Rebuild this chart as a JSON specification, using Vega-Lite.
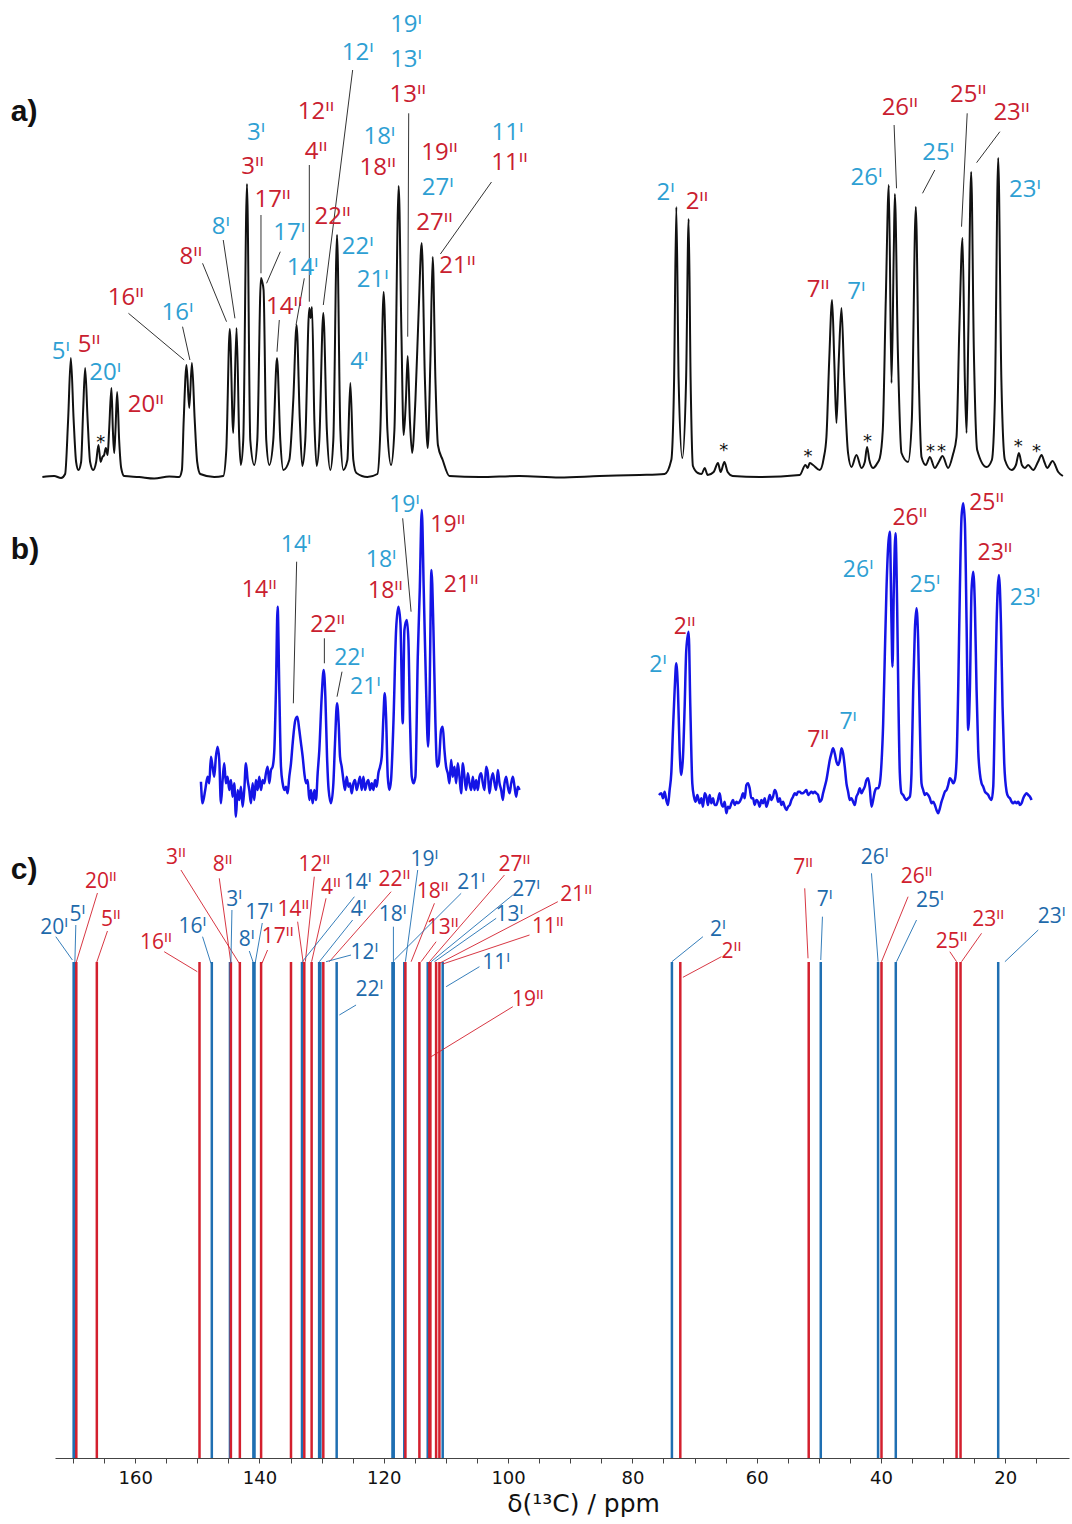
{
"$schema": "https://vega.github.io/schema/vega-lite/v6.json",
"width": 1014,
"height": 1458,
"autosize": {"type": "none"},
"padding": {"left": 55, "top": 0, "right": 3, "bottom": 66},
"background": "white",
"config": {"view": {"stroke": null}},
"datasets": {
"specA": [
{"ppm":174.93,"h":1},{"ppm":173.04,"h":2},{"ppm":171.92,"h":0},{"ppm":171.27,"h":4},{"ppm":170.79,"h":58},{"ppm":170.35,"h":120},{"ppm":169.9,"h":58},{"ppm":169.5,"h":16},{"ppm":169.13,"h":8},{"ppm":168.7,"h":16},{"ppm":168.37,"h":68},{"ppm":168.05,"h":110},{"ppm":167.65,"h":58},{"ppm":167.25,"h":16},{"ppm":166.76,"h":8},{"ppm":166.28,"h":16},{"ppm":165.91,"h":33},{"ppm":165.56,"h":16},{"ppm":165.27,"h":21},{"ppm":165.0,"h":23},{"ppm":164.72,"h":30},{"ppm":164.43,"h":23},{"ppm":164.19,"h":48},{"ppm":163.82,"h":90},{"ppm":163.59,"h":48},{"ppm":163.38,"h":25},{"ppm":163.17,"h":48},{"ppm":162.9,"h":86},{"ppm":162.58,"h":38},{"ppm":162.25,"h":10},{"ppm":161.77,"h":2},{"ppm":159.36,"h":1},{"ppm":156.94,"h":-0.5},{"ppm":154.52,"h":1.5},{"ppm":152.91,"h":1},{"ppm":152.48,"h":8},{"ppm":152.19,"h":58},{"ppm":151.74,"h":113},{"ppm":151.3,"h":70},{"ppm":150.87,"h":115},{"ppm":150.42,"h":58},{"ppm":150.02,"h":16},{"ppm":149.53,"h":4},{"ppm":147.28,"h":1},{"ppm":145.83,"h":2},{"ppm":145.34,"h":28},{"ppm":144.78,"h":149},{"ppm":144.22,"h":45},{"ppm":143.69,"h":150},{"ppm":143.25,"h":38},{"ppm":143.01,"h":13},{"ppm":142.61,"h":38},{"ppm":142.01,"h":294},{"ppm":141.48,"h":38},{"ppm":140.84,"h":13},{"ppm":140.35,"h":38},{"ppm":139.76,"h":200},{"ppm":139.55,"h":196},{"ppm":139.34,"h":188},{"ppm":138.91,"h":38},{"ppm":138.42,"h":13},{"ppm":137.78,"h":38},{"ppm":137.18,"h":120},{"ppm":136.65,"h":38},{"ppm":136.17,"h":8},{"ppm":135.2,"h":18},{"ppm":134.56,"h":78},{"ppm":134.03,"h":153},{"ppm":133.51,"h":58},{"ppm":133.11,"h":12},{"ppm":132.63,"h":38},{"ppm":131.98,"h":170},{"ppm":131.77,"h":160},{"ppm":131.55,"h":171},{"ppm":131.17,"h":58},{"ppm":130.8,"h":12},{"ppm":130.37,"h":38},{"ppm":129.73,"h":165},{"ppm":129.16,"h":48},{"ppm":128.6,"h":8},{"ppm":128.12,"h":38},{"ppm":127.52,"h":243},{"ppm":126.99,"h":48},{"ppm":126.51,"h":8},{"ppm":125.86,"h":18},{"ppm":125.38,"h":95},{"ppm":124.9,"h":18},{"ppm":124.41,"h":5},{"ppm":122.64,"h":1},{"ppm":121.03,"h":4},{"ppm":120.55,"h":48},{"ppm":120.02,"h":186},{"ppm":119.42,"h":48},{"ppm":118.83,"h":13},{"ppm":118.29,"h":48},{"ppm":117.6,"h":292},{"ppm":117.17,"h":148},{"ppm":116.8,"h":43},{"ppm":116.44,"h":78},{"ppm":116.15,"h":122},{"ppm":115.8,"h":58},{"ppm":115.44,"h":25},{"ppm":114.91,"h":78},{"ppm":114.38,"h":168},{"ppm":113.9,"h":235},{"ppm":113.38,"h":98},{"ppm":112.93,"h":30},{"ppm":112.5,"h":118},{"ppm":112.13,"h":221},{"ppm":111.69,"h":98},{"ppm":111.29,"h":33},{"ppm":110.52,"h":18},{"ppm":109.44,"h":2},{"ppm":104.6,"h":1},{"ppm":98.17,"h":2},{"ppm":91.72,"h":0.5},{"ppm":85.28,"h":2},{"ppm":78.84,"h":3},{"ppm":74.82,"h":4},{"ppm":73.74,"h":18},{"ppm":73.29,"h":98},{"ppm":72.93,"h":271},{"ppm":72.56,"h":98},{"ppm":71.97,"h":20},{"ppm":71.36,"h":98},{"ppm":70.95,"h":259},{"ppm":70.63,"h":98},{"ppm":70.26,"h":12},{"ppm":69.46,"h":5},{"ppm":68.86,"h":4},{"ppm":68.37,"h":10},{"ppm":67.89,"h":3},{"ppm":66.92,"h":6},{"ppm":66.23,"h":15},{"ppm":65.8,"h":6},{"ppm":65.2,"h":16},{"ppm":64.67,"h":6},{"ppm":63.87,"h":2},{"ppm":59.52,"h":1},{"ppm":53.08,"h":3},{"ppm":52.16,"h":13},{"ppm":51.79,"h":10},{"ppm":51.47,"h":15},{"ppm":50.93,"h":13},{"ppm":49.85,"h":8},{"ppm":49.21,"h":20},{"ppm":48.78,"h":41},{"ppm":48.33,"h":118},{"ppm":47.87,"h":178},{"ppm":47.52,"h":118},{"ppm":47.17,"h":55},{"ppm":46.79,"h":118},{"ppm":46.36,"h":170},{"ppm":45.91,"h":98},{"ppm":45.3,"h":25},{"ppm":44.75,"h":11},{"ppm":43.95,"h":23},{"ppm":43.14,"h":10},{"ppm":42.61,"h":16},{"ppm":42.24,"h":31},{"ppm":41.88,"h":18},{"ppm":41.27,"h":10},{"ppm":40.67,"h":14},{"ppm":40.19,"h":20},{"ppm":39.71,"h":48},{"ppm":39.23,"h":178},{"ppm":38.74,"h":293},{"ppm":38.31,"h":95},{"ppm":37.94,"h":228},{"ppm":37.77,"h":284},{"ppm":37.29,"h":128},{"ppm":36.7,"h":25},{"ppm":35.64,"h":16},{"ppm":35.04,"h":58},{"ppm":34.4,"h":271},{"ppm":33.91,"h":98},{"ppm":33.48,"h":21},{"ppm":32.79,"h":13},{"ppm":32.14,"h":21},{"ppm":31.34,"h":10},{"ppm":30.7,"h":16},{"ppm":30.1,"h":22},{"ppm":29.2,"h":10},{"ppm":28.44,"h":23},{"ppm":27.85,"h":41},{"ppm":27.4,"h":148},{"ppm":26.88,"h":240},{"ppm":26.51,"h":98},{"ppm":26.23,"h":45},{"ppm":25.94,"h":148},{"ppm":25.49,"h":306},{"ppm":25.06,"h":128},{"ppm":24.52,"h":28},{"ppm":23.01,"h":11},{"ppm":22.16,"h":18},{"ppm":21.68,"h":78},{"ppm":21.14,"h":320},{"ppm":20.63,"h":98},{"ppm":20.06,"h":18},{"ppm":18.98,"h":8},{"ppm":18.29,"h":13},{"ppm":17.81,"h":25},{"ppm":17.33,"h":13},{"ppm":16.85,"h":10},{"ppm":16.32,"h":13},{"ppm":15.51,"h":8},{"ppm":14.75,"h":16},{"ppm":14.16,"h":23},{"ppm":13.71,"h":16},{"ppm":13.26,"h":10},{"ppm":12.39,"h":17},{"ppm":11.48,"h":6},{"ppm":10.73,"h":2}
],
"specBL": [
{"ppm":149.42,"h":48.3},{"ppm":149.16,"h":26.7},{"ppm":148.73,"h":40},{"ppm":148.35,"h":53.3},{"ppm":148.08,"h":46.7},{"ppm":147.81,"h":73.3},{"ppm":147.55,"h":63.3},{"ppm":147.28,"h":53.3},{"ppm":147.01,"h":73.3},{"ppm":146.74,"h":83.3},{"ppm":146.47,"h":70},{"ppm":146.2,"h":26.7},{"ppm":145.93,"h":50},{"ppm":145.67,"h":66.7},{"ppm":145.4,"h":46.7},{"ppm":145.13,"h":53.3},{"ppm":144.86,"h":40},{"ppm":144.59,"h":50},{"ppm":144.32,"h":33.3},{"ppm":144.06,"h":46.7},{"ppm":143.79,"h":13.3},{"ppm":143.52,"h":40},{"ppm":143.25,"h":30},{"ppm":142.98,"h":43.3},{"ppm":142.71,"h":23.3},{"ppm":142.45,"h":40},{"ppm":142.18,"h":66.7},{"ppm":141.91,"h":50},{"ppm":141.64,"h":40},{"ppm":141.37,"h":26.7},{"ppm":141.1,"h":46.7},{"ppm":140.84,"h":30},{"ppm":140.57,"h":50},{"ppm":140.3,"h":40},{"ppm":140.03,"h":53.3},{"ppm":139.76,"h":40},{"ppm":139.49,"h":50},{"ppm":139.23,"h":46.7},{"ppm":138.96,"h":56.7},{"ppm":138.69,"h":63.3},{"ppm":138.42,"h":46.7},{"ppm":138.15,"h":60},{"ppm":137.88,"h":63.3},{"ppm":137.61,"h":80},{"ppm":137.35,"h":140},{"ppm":137.08,"h":223.3},{"ppm":136.81,"h":140},{"ppm":136.54,"h":63.3},{"ppm":136.27,"h":46.7},{"ppm":136.0,"h":40},{"ppm":135.74,"h":43.3},{"ppm":135.47,"h":36.7},{"ppm":135.2,"h":53.3},{"ppm":134.93,"h":66.7},{"ppm":134.66,"h":86.7},{"ppm":134.23,"h":110},{"ppm":133.91,"h":113.3},{"ppm":133.59,"h":100},{"ppm":133.32,"h":86.7},{"ppm":133.05,"h":73.3},{"ppm":132.78,"h":56.7},{"ppm":132.51,"h":46.7},{"ppm":132.25,"h":50},{"ppm":131.98,"h":30},{"ppm":131.71,"h":40},{"ppm":131.44,"h":26.7},{"ppm":131.17,"h":40},{"ppm":130.9,"h":30},{"ppm":130.64,"h":56.7},{"ppm":130.37,"h":80},{"ppm":129.99,"h":133.3},{"ppm":129.67,"h":160},{"ppm":129.4,"h":133.3},{"ppm":129.13,"h":73.3},{"ppm":128.87,"h":40},{"ppm":128.49,"h":26.7},{"ppm":128.11,"h":46.7},{"ppm":127.85,"h":86.7},{"ppm":127.52,"h":126.7},{"ppm":127.26,"h":106.7},{"ppm":127.04,"h":73.3},{"ppm":126.77,"h":63.3},{"ppm":126.5,"h":50},{"ppm":126.24,"h":40},{"ppm":125.97,"h":53.3},{"ppm":125.7,"h":43.3},{"ppm":125.43,"h":46.7},{"ppm":125.16,"h":36.7},{"ppm":124.89,"h":46.7},{"ppm":124.62,"h":50},{"ppm":124.36,"h":40},{"ppm":124.09,"h":46.7},{"ppm":123.82,"h":53.3},{"ppm":123.55,"h":40},{"ppm":123.28,"h":53.3},{"ppm":123.01,"h":40},{"ppm":122.75,"h":46.7},{"ppm":122.48,"h":50},{"ppm":122.21,"h":40},{"ppm":121.94,"h":46.7},{"ppm":121.67,"h":40},{"ppm":121.4,"h":50},{"ppm":121.14,"h":43.3},{"ppm":120.87,"h":56.7},{"ppm":120.6,"h":63.3},{"ppm":120.33,"h":73.3},{"ppm":120.06,"h":113.3},{"ppm":119.85,"h":136.7},{"ppm":119.63,"h":113.3},{"ppm":119.36,"h":53.3},{"ppm":119.1,"h":40},{"ppm":118.83,"h":50},{"ppm":118.45,"h":106.7},{"ppm":118.02,"h":200},{"ppm":117.65,"h":223.3},{"ppm":117.32,"h":206.7},{"ppm":116.95,"h":106.7},{"ppm":116.68,"h":200},{"ppm":116.3,"h":210},{"ppm":116.04,"h":190},{"ppm":115.77,"h":106.7},{"ppm":115.5,"h":53.3},{"ppm":115.23,"h":46.7},{"ppm":114.91,"h":53.3},{"ppm":114.53,"h":173.3},{"ppm":114.21,"h":240},{"ppm":113.89,"h":320},{"ppm":113.57,"h":240},{"ppm":113.19,"h":140},{"ppm":112.87,"h":83.3},{"ppm":112.65,"h":126.7},{"ppm":112.33,"h":260},{"ppm":112.01,"h":200},{"ppm":111.69,"h":106.7},{"ppm":111.42,"h":63.3},{"ppm":111.15,"h":66.7},{"ppm":110.78,"h":100},{"ppm":110.51,"h":103.3},{"ppm":110.24,"h":80},{"ppm":109.97,"h":63.3},{"ppm":109.7,"h":56.7},{"ppm":109.43,"h":46.7},{"ppm":109.16,"h":70},{"ppm":108.9,"h":53.3},{"ppm":108.63,"h":63.3},{"ppm":108.36,"h":46.7},{"ppm":108.09,"h":66.7},{"ppm":107.82,"h":53.3},{"ppm":107.55,"h":36.7},{"ppm":107.28,"h":66.7},{"ppm":107.02,"h":53.3},{"ppm":106.75,"h":40},{"ppm":106.48,"h":56.7},{"ppm":106.21,"h":46.7},{"ppm":105.94,"h":40},{"ppm":105.67,"h":53.3},{"ppm":105.41,"h":40},{"ppm":105.14,"h":50},{"ppm":104.87,"h":40},{"ppm":104.6,"h":53.3},{"ppm":104.33,"h":56.7},{"ppm":104.06,"h":46.7},{"ppm":103.79,"h":40},{"ppm":103.53,"h":63.3},{"ppm":103.26,"h":56.7},{"ppm":102.99,"h":36.7},{"ppm":102.72,"h":50},{"ppm":102.45,"h":56.7},{"ppm":102.18,"h":46.7},{"ppm":101.92,"h":40},{"ppm":101.65,"h":60},{"ppm":101.38,"h":46.7},{"ppm":101.11,"h":40},{"ppm":100.84,"h":30},{"ppm":100.57,"h":46.7},{"ppm":100.31,"h":53.3},{"ppm":100.04,"h":43.3},{"ppm":99.77,"h":36.7},{"ppm":99.5,"h":46.7},{"ppm":99.23,"h":53.3},{"ppm":98.96,"h":43.3},{"ppm":98.69,"h":33.3},{"ppm":98.43,"h":43.3},{"ppm":98.16,"h":40}
],
"specBR": [
{"ppm":75.73,"h":35},{"ppm":75.35,"h":36.7},{"ppm":75.08,"h":31.7},{"ppm":74.81,"h":38.3},{"ppm":74.55,"h":30},{"ppm":74.28,"h":25},{"ppm":74.01,"h":40},{"ppm":73.74,"h":56.7},{"ppm":73.47,"h":100},{"ppm":73.2,"h":140},{"ppm":72.94,"h":166.7},{"ppm":72.67,"h":140},{"ppm":72.4,"h":80},{"ppm":72.13,"h":55},{"ppm":71.86,"h":73.3},{"ppm":71.59,"h":123.3},{"ppm":71.33,"h":180},{"ppm":70.95,"h":198.3},{"ppm":70.68,"h":123.3},{"ppm":70.36,"h":46.7},{"ppm":70.09,"h":33.3},{"ppm":69.82,"h":28.3},{"ppm":69.55,"h":35},{"ppm":69.18,"h":26.7},{"ppm":68.91,"h":31.7},{"ppm":68.64,"h":23.3},{"ppm":68.37,"h":36.7},{"ppm":68.1,"h":33.3},{"ppm":67.84,"h":25},{"ppm":67.57,"h":35},{"ppm":67.3,"h":26.7},{"ppm":67.03,"h":31.7},{"ppm":66.76,"h":25},{"ppm":66.49,"h":25},{"ppm":66.23,"h":30},{"ppm":65.96,"h":36.7},{"ppm":65.69,"h":26.7},{"ppm":65.42,"h":23.3},{"ppm":65.15,"h":28.3},{"ppm":64.88,"h":16.7},{"ppm":64.62,"h":23.3},{"ppm":64.35,"h":21.7},{"ppm":64.08,"h":26.7},{"ppm":63.81,"h":30},{"ppm":63.54,"h":25},{"ppm":63.27,"h":28.3},{"ppm":63.0,"h":26.7},{"ppm":62.74,"h":28.3},{"ppm":62.47,"h":31.7},{"ppm":62.2,"h":36.7},{"ppm":61.93,"h":31.7},{"ppm":61.66,"h":45},{"ppm":61.39,"h":46.7},{"ppm":61.13,"h":41.7},{"ppm":60.86,"h":31.7},{"ppm":60.59,"h":31.7},{"ppm":60.32,"h":25},{"ppm":60.05,"h":30},{"ppm":59.78,"h":28.3},{"ppm":59.52,"h":23.3},{"ppm":59.25,"h":30},{"ppm":58.98,"h":26.7},{"ppm":58.71,"h":31.7},{"ppm":58.44,"h":23.3},{"ppm":58.17,"h":28.3},{"ppm":57.9,"h":35},{"ppm":57.64,"h":30},{"ppm":57.37,"h":33.3},{"ppm":57.1,"h":40},{"ppm":56.83,"h":36.7},{"ppm":56.56,"h":28.3},{"ppm":56.29,"h":31.7},{"ppm":56.03,"h":25},{"ppm":55.76,"h":28.3},{"ppm":55.49,"h":23.3},{"ppm":55.22,"h":20},{"ppm":54.95,"h":23.3},{"ppm":54.68,"h":25},{"ppm":54.42,"h":30},{"ppm":54.15,"h":33.3},{"ppm":53.88,"h":36.7},{"ppm":53.61,"h":35},{"ppm":53.34,"h":38.3},{"ppm":53.07,"h":38.3},{"ppm":52.81,"h":36.7},{"ppm":52.54,"h":36.7},{"ppm":52.27,"h":38.3},{"ppm":52.0,"h":40},{"ppm":51.73,"h":35},{"ppm":51.46,"h":36.7},{"ppm":51.2,"h":38.3},{"ppm":50.93,"h":36.7},{"ppm":50.66,"h":38.3},{"ppm":50.39,"h":36.7},{"ppm":50.12,"h":35},{"ppm":49.85,"h":28.3},{"ppm":49.58,"h":30},{"ppm":49.32,"h":36.7},{"ppm":49.05,"h":43.3},{"ppm":48.78,"h":50},{"ppm":48.51,"h":60},{"ppm":48.24,"h":70},{"ppm":47.97,"h":76.7},{"ppm":47.71,"h":81.7},{"ppm":47.44,"h":76.7},{"ppm":47.17,"h":68.3},{"ppm":46.9,"h":65},{"ppm":46.63,"h":70},{"ppm":46.36,"h":81.7},{"ppm":46.1,"h":76.7},{"ppm":45.83,"h":63.3},{"ppm":45.56,"h":46.7},{"ppm":45.29,"h":38.3},{"ppm":45.02,"h":30},{"ppm":44.75,"h":31.7},{"ppm":44.49,"h":28.3},{"ppm":44.22,"h":25},{"ppm":43.95,"h":33.3},{"ppm":43.68,"h":36.7},{"ppm":43.41,"h":41.7},{"ppm":43.14,"h":36.7},{"ppm":42.87,"h":40},{"ppm":42.61,"h":43.3},{"ppm":42.34,"h":50},{"ppm":42.07,"h":51.7},{"ppm":41.8,"h":41.7},{"ppm":41.53,"h":23.3},{"ppm":41.26,"h":30},{"ppm":41.0,"h":38.3},{"ppm":40.73,"h":41.7},{"ppm":40.46,"h":41.7},{"ppm":40.19,"h":46.7},{"ppm":39.92,"h":66.7},{"ppm":39.65,"h":106.7},{"ppm":39.39,"h":173.3},{"ppm":39.12,"h":240},{"ppm":38.85,"h":283.3},{"ppm":38.58,"h":298.3},{"ppm":38.31,"h":206.7},{"ppm":38.15,"h":163.3},{"ppm":37.94,"h":240},{"ppm":37.67,"h":296.7},{"ppm":37.4,"h":223.3},{"ppm":37.18,"h":123.3},{"ppm":36.97,"h":56.7},{"ppm":36.7,"h":36.7},{"ppm":36.43,"h":35},{"ppm":36.16,"h":31.7},{"ppm":35.9,"h":30},{"ppm":35.63,"h":31.7},{"ppm":35.36,"h":33.3},{"ppm":35.09,"h":56.7},{"ppm":34.82,"h":140},{"ppm":34.55,"h":200},{"ppm":34.29,"h":221.7},{"ppm":34.02,"h":190},{"ppm":33.75,"h":106.7},{"ppm":33.48,"h":46.7},{"ppm":33.21,"h":40},{"ppm":32.94,"h":35},{"ppm":32.68,"h":36.7},{"ppm":32.41,"h":35},{"ppm":32.14,"h":31.7},{"ppm":31.87,"h":26.7},{"ppm":31.6,"h":28.3},{"ppm":31.33,"h":25},{"ppm":31.07,"h":20},{"ppm":30.8,"h":16.7},{"ppm":30.53,"h":21.7},{"ppm":30.26,"h":28.3},{"ppm":29.99,"h":33.3},{"ppm":29.72,"h":38.3},{"ppm":29.45,"h":40},{"ppm":29.19,"h":45},{"ppm":28.92,"h":51.7},{"ppm":28.65,"h":50},{"ppm":28.38,"h":46.7},{"ppm":28.11,"h":50},{"ppm":27.84,"h":70},{"ppm":27.58,"h":140},{"ppm":27.31,"h":240},{"ppm":27.04,"h":313.3},{"ppm":26.77,"h":326.7},{"ppm":26.5,"h":306.7},{"ppm":26.23,"h":206.7},{"ppm":25.97,"h":100},{"ppm":25.7,"h":140},{"ppm":25.43,"h":240},{"ppm":25.16,"h":258.3},{"ppm":24.89,"h":223.3},{"ppm":24.62,"h":140},{"ppm":24.36,"h":80},{"ppm":24.09,"h":56.7},{"ppm":23.82,"h":46.7},{"ppm":23.55,"h":43.3},{"ppm":23.28,"h":38.3},{"ppm":23.01,"h":36.7},{"ppm":22.74,"h":35},{"ppm":22.48,"h":31.7},{"ppm":22.21,"h":30},{"ppm":21.94,"h":43.3},{"ppm":21.67,"h":123.3},{"ppm":21.4,"h":206.7},{"ppm":21.03,"h":255},{"ppm":20.7,"h":206.7},{"ppm":20.44,"h":123.3},{"ppm":20.17,"h":66.7},{"ppm":19.79,"h":38.3},{"ppm":19.52,"h":33.3},{"ppm":19.25,"h":31.7},{"ppm":18.99,"h":28.3},{"ppm":18.72,"h":26.7},{"ppm":18.45,"h":28.3},{"ppm":18.18,"h":26.7},{"ppm":17.91,"h":28.3},{"ppm":17.64,"h":25},{"ppm":17.38,"h":26.7},{"ppm":17.11,"h":31.7},{"ppm":16.84,"h":35},{"ppm":16.57,"h":36.7},{"ppm":16.3,"h":35},{"ppm":16.03,"h":33.3},{"ppm":15.77,"h":30}
],
"stars": [
{"ppm":165.52,"h":38.7,"t":"*"},{"ppm":65.31,"h":31.3,"t":"*"},{"ppm":51.74,"h":24.7,"t":"*"},{"ppm":42.17,"h":39.7,"t":"*"},{"ppm":32.03,"h":29.7,"t":"*"},{"ppm":30.26,"h":29.7,"t":"*"},{"ppm":17.92,"h":34.7,"t":"*"},{"ppm":14.96,"h":29.7,"t":"*"}
],
"labelsA": [
{"ppm":171.96,"h":126.3,"t":"5ᴵ","s":"I"},{"ppm":167.41,"h":133,"t":"5ᴵᴵ","s":"II"},{"ppm":164.83,"h":104.7,"t":"20ᴵ","s":"I"},{"ppm":158.28,"h":73,"t":"20ᴵᴵ","s":"II"},{"ppm":161.5,"h":179.7,"t":"16ᴵᴵ","s":"II"},{"ppm":153.19,"h":164.7,"t":"16ᴵ","s":"I"},{"ppm":151.03,"h":221.3,"t":"8ᴵᴵ","s":"II"},{"ppm":146.2,"h":251.3,"t":"8ᴵ","s":"I"},{"ppm":140.56,"h":344.7,"t":"3ᴵ","s":"I"},{"ppm":141.11,"h":311.3,"t":"3ᴵᴵ","s":"II"},{"ppm":137.89,"h":278,"t":"17ᴵᴵ","s":"II"},{"ppm":135.2,"h":244.7,"t":"17ᴵ","s":"I"},{"ppm":133.06,"h":209.7,"t":"14ᴵ","s":"I"},{"ppm":136.01,"h":171.3,"t":"14ᴵᴵ","s":"II"},{"ppm":130.9,"h":366.3,"t":"12ᴵᴵ","s":"II"},{"ppm":130.9,"h":326.3,"t":"4ᴵᴵ","s":"II"},{"ppm":128.23,"h":261.3,"t":"22ᴵᴵ","s":"II"},{"ppm":124.2,"h":231.3,"t":"22ᴵ","s":"I"},{"ppm":121.79,"h":198,"t":"21ᴵ","s":"I"},{"ppm":123.93,"h":116.3,"t":"4ᴵ","s":"I"},{"ppm":124.2,"h":424.7,"t":"12ᴵ","s":"I"},{"ppm":120.71,"h":341.3,"t":"18ᴵ","s":"I"},{"ppm":120.98,"h":309.7,"t":"18ᴵᴵ","s":"II"},{"ppm":116.41,"h":453,"t":"19ᴵ","s":"I"},{"ppm":116.41,"h":418,"t":"13ᴵ","s":"I"},{"ppm":116.15,"h":383,"t":"13ᴵᴵ","s":"II"},{"ppm":111.05,"h":324.7,"t":"19ᴵᴵ","s":"II"},{"ppm":111.32,"h":289.7,"t":"27ᴵ","s":"I"},{"ppm":111.85,"h":254.7,"t":"27ᴵᴵ","s":"II"},{"ppm":108.15,"h":212,"t":"21ᴵᴵ","s":"II"},{"ppm":100.1,"h":345,"t":"11ᴵ","s":"I"},{"ppm":99.77,"h":315,"t":"11ᴵᴵ","s":"II"},{"ppm":74.65,"h":284.7,"t":"2ᴵ","s":"I"},{"ppm":69.61,"h":276.3,"t":"2ᴵᴵ","s":"II"},{"ppm":50.13,"h":188,"t":"7ᴵᴵ","s":"II"},{"ppm":43.95,"h":186.3,"t":"7ᴵ","s":"I"},{"ppm":42.34,"h":299.7,"t":"26ᴵ","s":"I"},{"ppm":36.97,"h":369.7,"t":"26ᴵᴵ","s":"II"},{"ppm":30.8,"h":324.7,"t":"25ᴵ","s":"I"},{"ppm":25.97,"h":383,"t":"25ᴵᴵ","s":"II"},{"ppm":18.99,"h":364.7,"t":"23ᴵᴵ","s":"II"},{"ppm":16.84,"h":288,"t":"23ᴵ","s":"I"}
],
"leadersA": [
{"ppm":161.08,"h":164.7,"ppm2":152.11,"h2":118},{"ppm":152.38,"h":151.3,"ppm2":151.19,"h2":118},{"ppm":149.16,"h":214.7,"ppm2":145.3,"h2":156.3},{"ppm":145.83,"h":238,"ppm2":143.95,"h2":159.7},{"ppm":139.76,"h":263,"ppm2":139.76,"h2":204.7},{"ppm":136.65,"h":226.3,"ppm2":138.86,"h2":194.7},{"ppm":132.79,"h":199.7,"ppm2":134.12,"h2":153},{"ppm":136.81,"h":158,"ppm2":137.18,"h2":126.3},{"ppm":131.98,"h":313,"ppm2":131.98,"h2":176.3},{"ppm":125.01,"h":408,"ppm2":129.73,"h2":173},{"ppm":115.99,"h":364.7,"ppm2":116.15,"h2":141.3},{"ppm":102.67,"h":296,"ppm2":110.89,"h2":224},{"ppm":37.89,"h":353,"ppm2":37.5,"h2":289.7},{"ppm":31.34,"h":308,"ppm2":33.32,"h2":284.7},{"ppm":26.13,"h":364.7,"ppm2":27.04,"h2":251.3},{"ppm":20.87,"h":346.3,"ppm2":24.62,"h2":315.3}
],
"labelsB": [
{"ppm":140.03,"h":240,"t":"14ᴵᴵ","s":"II"},{"ppm":134.12,"h":285,"t":"14ᴵ","s":"I"},{"ppm":129.02,"h":205,"t":"22ᴵᴵ","s":"II"},{"ppm":125.53,"h":172,"t":"22ᴵ","s":"I"},{"ppm":122.96,"h":143,"t":"21ᴵ","s":"I"},{"ppm":120.44,"h":270,"t":"18ᴵ","s":"I"},{"ppm":119.74,"h":239,"t":"18ᴵᴵ","s":"II"},{"ppm":116.68,"h":325,"t":"19ᴵ","s":"I"},{"ppm":109.7,"h":305,"t":"19ᴵᴵ","s":"II"},{"ppm":107.55,"h":245,"t":"21ᴵᴵ","s":"II"},{"ppm":75.89,"h":165,"t":"2ᴵ","s":"I"},{"ppm":71.59,"h":203.3,"t":"2ᴵᴵ","s":"II"},{"ppm":50.12,"h":90,"t":"7ᴵᴵ","s":"II"},{"ppm":45.29,"h":108.3,"t":"7ᴵ","s":"I"},{"ppm":43.68,"h":260,"t":"26ᴵ","s":"I"},{"ppm":35.36,"h":311.7,"t":"26ᴵᴵ","s":"II"},{"ppm":32.94,"h":245,"t":"25ᴵ","s":"I"},{"ppm":23.01,"h":326.7,"t":"25ᴵᴵ","s":"II"},{"ppm":21.67,"h":276.7,"t":"23ᴵᴵ","s":"II"},{"ppm":16.84,"h":231.7,"t":"23ᴵ","s":"I"}
],
"leadersB": [
{"ppm":134.02,"h":268.3,"ppm2":134.55,"h2":126.7},{"ppm":129.56,"h":191.7,"ppm2":129.56,"h2":166.7},{"ppm":126.72,"h":158.3,"ppm2":127.52,"h2":133.3},{"ppm":116.96,"h":311.7,"ppm2":115.61,"h2":218.3}
],
"sticks": [
{"ppm":169.9,"h":496,"s":"I"},{"ppm":169.7,"h":496,"s":"I"},{"ppm":147.67,"h":496,"s":"I"},{"ppm":144.75,"h":496,"s":"I"},{"ppm":140.98,"h":496,"s":"I"},{"ppm":140.8,"h":496,"s":"I"},{"ppm":133.16,"h":496,"s":"I"},{"ppm":130.4,"h":496,"s":"I"},{"ppm":130.2,"h":496,"s":"I"},{"ppm":127.58,"h":496,"s":"I"},{"ppm":118.6,"h":496,"s":"I"},{"ppm":118.4,"h":496,"s":"I"},{"ppm":116.7,"h":496,"s":"I"},{"ppm":112.93,"h":496,"s":"I"},{"ppm":112.8,"h":496,"s":"I"},{"ppm":110.52,"h":496,"s":"I"},{"ppm":73.64,"h":496,"s":"I"},{"ppm":49.69,"h":496,"s":"I"},{"ppm":40.47,"h":496,"s":"I"},{"ppm":37.62,"h":496,"s":"I"},{"ppm":21.14,"h":496,"s":"I"},
{"ppm":169.47,"h":496,"s":"II"},{"ppm":166.17,"h":496,"s":"II"},{"ppm":149.65,"h":496,"s":"II"},{"ppm":144.6,"h":496,"s":"II"},{"ppm":143.16,"h":496,"s":"II"},{"ppm":139.74,"h":496,"s":"II"},{"ppm":134.93,"h":496,"s":"II"},{"ppm":132.79,"h":496,"s":"II"},{"ppm":131.61,"h":496,"s":"II"},{"ppm":129.73,"h":496,"s":"II"},{"ppm":116.52,"h":496,"s":"II"},{"ppm":114.27,"h":496,"s":"II"},{"ppm":112.66,"h":496,"s":"II"},{"ppm":112.5,"h":496,"s":"II"},{"ppm":111.58,"h":496,"s":"II"},{"ppm":111.05,"h":496,"s":"II"},{"ppm":72.29,"h":496,"s":"II"},{"ppm":51.63,"h":496,"s":"II"},{"ppm":39.92,"h":496,"s":"II"},{"ppm":27.84,"h":496,"s":"II"},{"ppm":27.2,"h":496,"s":"II"}
],
"labelsC": [
{"ppm":173.04,"h":530,"t":"20ᴵ","s":"I"},{"ppm":169.29,"h":543,"t":"5ᴵ","s":"I"},{"ppm":165.52,"h":576.3,"t":"20ᴵᴵ","s":"II"},{"ppm":163.91,"h":538,"t":"5ᴵᴵ","s":"II"},{"ppm":156.67,"h":514.7,"t":"16ᴵᴵ","s":"II"},{"ppm":150.77,"h":531.3,"t":"16ᴵ","s":"I"},{"ppm":153.45,"h":599.7,"t":"3ᴵᴵ","s":"II"},{"ppm":145.94,"h":593,"t":"8ᴵᴵ","s":"II"},{"ppm":144.06,"h":558,"t":"3ᴵ","s":"I"},{"ppm":140.03,"h":545,"t":"17ᴵ","s":"I"},{"ppm":142.05,"h":518,"t":"8ᴵ","s":"I"},{"ppm":137.08,"h":521.3,"t":"17ᴵᴵ","s":"II"},{"ppm":134.56,"h":548,"t":"14ᴵᴵ","s":"II"},{"ppm":131.18,"h":593,"t":"12ᴵᴵ","s":"II"},{"ppm":128.49,"h":569.7,"t":"4ᴵᴵ","s":"II"},{"ppm":124.2,"h":575,"t":"14ᴵ","s":"I"},{"ppm":124.04,"h":548,"t":"4ᴵ","s":"I"},{"ppm":118.29,"h":578,"t":"22ᴵᴵ","s":"II"},{"ppm":123.12,"h":504.7,"t":"12ᴵ","s":"I"},{"ppm":122.32,"h":468,"t":"22ᴵ","s":"I"},{"ppm":118.57,"h":543,"t":"18ᴵ","s":"I"},{"ppm":113.46,"h":598,"t":"19ᴵ","s":"I"},{"ppm":112.13,"h":566.3,"t":"18ᴵᴵ","s":"II"},{"ppm":105.94,"h":574.7,"t":"21ᴵ","s":"I"},{"ppm":110.52,"h":529.7,"t":"13ᴵᴵ","s":"II"},{"ppm":98.97,"h":593,"t":"27ᴵᴵ","s":"II"},{"ppm":97.09,"h":568,"t":"27ᴵ","s":"I"},{"ppm":99.77,"h":543,"t":"13ᴵ","s":"I"},{"ppm":89.03,"h":563,"t":"21ᴵᴵ","s":"II"},{"ppm":93.61,"h":531.3,"t":"11ᴵᴵ","s":"II"},{"ppm":101.92,"h":494.7,"t":"11ᴵ","s":"I"},{"ppm":96.83,"h":458,"t":"19ᴵᴵ","s":"II"},{"ppm":66.23,"h":528,"t":"2ᴵ","s":"I"},{"ppm":64.07,"h":506.3,"t":"2ᴵᴵ","s":"II"},{"ppm":52.54,"h":589.7,"t":"7ᴵᴵ","s":"II"},{"ppm":49.05,"h":558,"t":"7ᴵ","s":"I"},{"ppm":41.0,"h":599.7,"t":"26ᴵ","s":"I"},{"ppm":34.28,"h":581,"t":"26ᴵᴵ","s":"II"},{"ppm":32.14,"h":557,"t":"25ᴵ","s":"I"},{"ppm":28.65,"h":516.3,"t":"25ᴵᴵ","s":"II"},{"ppm":22.75,"h":538,"t":"23ᴵᴵ","s":"II"},{"ppm":12.54,"h":541.3,"t":"23ᴵ","s":"I"}
],
"leadersC": [
{"ppm":172.77,"h":521.3,"ppm2":170.1,"h2":498,"s":"I"},{"ppm":169.55,"h":533,"ppm2":169.7,"h2":496,"s":"I"},{"ppm":166.07,"h":565,"ppm2":169.47,"h2":496,"s":"II"},{"ppm":164.46,"h":527,"ppm2":166.17,"h2":496,"s":"II"},{"ppm":155.33,"h":506.3,"ppm2":150.0,"h2":486.3,"s":"II"},{"ppm":149.16,"h":521.3,"ppm2":147.81,"h2":494.7,"s":"I"},{"ppm":152.64,"h":588,"ppm2":143.25,"h2":494.7,"s":"II"},{"ppm":146.47,"h":579.7,"ppm2":144.59,"h2":494.7,"s":"II"},{"ppm":144.43,"h":548,"ppm2":144.6,"h2":494.7,"s":"I"},{"ppm":139.55,"h":535,"ppm2":140.7,"h2":494.7,"s":"I"},{"ppm":141.64,"h":507,"ppm2":140.98,"h2":495,"s":"I"},{"ppm":138.7,"h":508,"ppm2":139.6,"h2":494.7,"s":"II"},{"ppm":133.86,"h":536.3,"ppm2":132.95,"h2":494.7,"s":"II"},{"ppm":131.18,"h":581.3,"ppm2":132.62,"h2":496.3,"s":"II"},{"ppm":129.29,"h":559.7,"ppm2":131.61,"h2":496.3,"s":"II"},{"ppm":124.73,"h":561.3,"ppm2":133.11,"h2":496.3,"s":"I"},{"ppm":125.01,"h":538,"ppm2":130.37,"h2":496.3,"s":"I"},{"ppm":118.82,"h":566.3,"ppm2":128.76,"h2":496.3,"s":"II"},{"ppm":125.27,"h":503,"ppm2":129.29,"h2":496.3,"s":"I"},{"ppm":124.46,"h":453,"ppm2":127.15,"h2":443,"s":"I"},{"ppm":118.45,"h":531.3,"ppm2":118.45,"h2":494.7,"s":"I"},{"ppm":114.54,"h":588,"ppm2":116.52,"h2":496.3,"s":"I"},{"ppm":111.85,"h":554.7,"ppm2":115.6,"h2":496.3,"s":"II"},{"ppm":107.55,"h":564.7,"ppm2":118.29,"h2":498,"s":"I"},{"ppm":111.58,"h":516.3,"ppm2":113.99,"h2":496.3,"s":"II"},{"ppm":100.58,"h":583,"ppm2":112.66,"h2":496.3,"s":"II"},{"ppm":99.24,"h":563,"ppm2":112.38,"h2":496.3,"s":"I"},{"ppm":101.92,"h":539.7,"ppm2":111.85,"h2":496.3,"s":"I"},{"ppm":92.0,"h":556.3,"ppm2":111.05,"h2":494.7,"s":"II"},{"ppm":96.55,"h":523,"ppm2":110.52,"h2":494,"s":"II"},{"ppm":104.61,"h":491.3,"ppm2":109.97,"h2":471.3,"s":"I"},{"ppm":99.24,"h":451.3,"ppm2":112.38,"h2":401.3,"s":"II"},{"ppm":68.65,"h":521.3,"ppm2":73.64,"h2":496.3,"s":"I"},{"ppm":65.68,"h":501.3,"ppm2":71.87,"h2":480.7,"s":"II"},{"ppm":52.27,"h":569.7,"ppm2":51.74,"h2":499.7,"s":"II"},{"ppm":49.42,"h":541.3,"ppm2":49.69,"h2":498,"s":"I"},{"ppm":41.53,"h":584.7,"ppm2":40.47,"h2":496.3,"s":"I"},{"ppm":35.64,"h":561.3,"ppm2":39.92,"h2":496.3,"s":"II"},{"ppm":34.28,"h":538,"ppm2":37.5,"h2":496.3,"s":"I"},{"ppm":28.92,"h":506.3,"ppm2":27.84,"h2":496.3,"s":"II"},{"ppm":23.82,"h":524.7,"ppm2":27.04,"h2":496.3,"s":"II"},{"ppm":14.7,"h":528,"ppm2":20.06,"h2":496.3,"s":"I"}
],
"tags": [
{"p":"a","t":"a)","ppm":180.0,"h":366},{"p":"b","t":"b)","ppm":180.0,"h":280},{"p":"c","t":"c)","ppm":180.0,"h":588}
]
},
"encoding": {
"x": {"field": "ppm", "type": "quantitative",
 "scale": {"domain": [172.9, 9.75], "nice": false, "zero": false},
 "axis": {"values": [15,20,25,30,35,40,45,50,55,60,65,70,75,80,85,90,95,100,105,110,115,120,125,130,135,140,145,150,155,160,165,170],
  "labelExpr": "datum.value % 20 === 0 ? datum.label : ''",
  "grid": false, "tickSize": 5, "tickColor": "#444", "domainColor": "#444", "domainWidth": 1, "tickWidth": 1,
  "labelFont": "DejaVu Sans", "labelFontSize": 18, "labelColor": "#111", "labelPadding": 6, "labelOverlap": false, "labelFlush": false,
  "title": "δ(¹³C) / ppm", "titleFont": "DejaVu Sans", "titleFontSize": 25, "titleFontWeight": "normal", "titleColor": "#111", "titlePadding": 4, "titleX": 528}}
},
"resolve": {"scale": {"y": "independent", "color": "independent"}},
"layer": [
{"data": {"name": "specA"}, "mark": {"type": "line", "color": "#111", "strokeWidth": 2, "interpolate": "monotone"},
 "encoding": {"y": {"field": "h", "type": "quantitative", "scale": {"domain": [-980, 478], "nice": false, "zero": false}, "axis": null}}},
{"data": {"name": "stars"}, "mark": {"type": "text", "font": "DejaVu Sans", "fontSize": 18, "color": "#111", "align": "center", "baseline": "middle", "dy": 4},
 "encoding": {"y": {"field": "h", "type": "quantitative", "scale": {"domain": [-980, 478], "nice": false, "zero": false}, "axis": null}, "text": {"field": "t"}}},
{"data": {"name": "leadersA"}, "mark": {"type": "rule", "color": "#333", "strokeWidth": 1},
 "encoding": {"y": {"field": "h", "type": "quantitative", "scale": {"domain": [-980, 478], "nice": false, "zero": false}, "axis": null}, "x2": {"field": "ppm2"}, "y2": {"field": "h2"}}},
{"data": {"name": "labelsA"}, "mark": {"type": "text", "font": "Open Sans, DejaVu Sans", "fontSize": 24, "align": "center", "baseline": "middle"},
 "encoding": {"y": {"field": "h", "type": "quantitative", "scale": {"domain": [-980, 478], "nice": false, "zero": false}, "axis": null}, "text": {"field": "t"},
  "color": {"field": "s", "type": "nominal", "scale": {"domain": ["I", "II"], "range": ["#2e9fd3", "#c9202f"]}, "legend": null}}},
{"data": {"name": "tags"}, "transform": [{"filter": "datum.p === 'a'"}], "mark": {"type": "text", "font": "Liberation Sans", "fontWeight": "bold", "fontSize": 30, "color": "#111", "align": "left", "baseline": "middle"},
 "encoding": {"y": {"field": "h", "type": "quantitative", "scale": {"domain": [-980, 478], "nice": false, "zero": false}, "axis": null}, "text": {"field": "t"}}},
{"data": {"name": "specBL"}, "mark": {"type": "line", "color": "#1414e6", "strokeWidth": 2.5, "interpolate": "monotone"},
 "encoding": {"y": {"field": "h", "type": "quantitative", "scale": {"domain": [-628, 830], "nice": false, "zero": false}, "axis": null}}},
{"data": {"name": "specBR"}, "mark": {"type": "line", "color": "#1414e6", "strokeWidth": 2.5, "interpolate": "monotone"},
 "encoding": {"y": {"field": "h", "type": "quantitative", "scale": {"domain": [-628, 830], "nice": false, "zero": false}, "axis": null}}},
{"data": {"name": "leadersB"}, "mark": {"type": "rule", "color": "#333", "strokeWidth": 1},
 "encoding": {"y": {"field": "h", "type": "quantitative", "scale": {"domain": [-628, 830], "nice": false, "zero": false}, "axis": null}, "x2": {"field": "ppm2"}, "y2": {"field": "h2"}}},
{"data": {"name": "labelsB"}, "mark": {"type": "text", "font": "Open Sans, DejaVu Sans", "fontSize": 23, "align": "center", "baseline": "middle"},
 "encoding": {"y": {"field": "h", "type": "quantitative", "scale": {"domain": [-628, 830], "nice": false, "zero": false}, "axis": null}, "text": {"field": "t"},
  "color": {"field": "s", "type": "nominal", "scale": {"domain": ["I", "II"], "range": ["#2e9fd3", "#c9202f"]}, "legend": null}}},
{"data": {"name": "tags"}, "transform": [{"filter": "datum.p === 'b'"}], "mark": {"type": "text", "font": "Liberation Sans", "fontWeight": "bold", "fontSize": 30, "color": "#111", "align": "left", "baseline": "middle"},
 "encoding": {"y": {"field": "h", "type": "quantitative", "scale": {"domain": [-628, 830], "nice": false, "zero": false}, "axis": null}, "text": {"field": "t"}}},
{"data": {"name": "sticks"}, "mark": {"type": "rule", "strokeWidth": 2.5},
 "encoding": {"y": {"field": "h", "type": "quantitative", "scale": {"domain": [0, 1458], "nice": false, "zero": false}, "axis": null}, "y2": {"datum": 0},
  "color": {"field": "s", "type": "nominal", "scale": {"domain": ["I", "II"], "range": ["#1f6fb2", "#d3202e"]}, "legend": null}}},
{"data": {"name": "leadersC"}, "mark": {"type": "rule", "strokeWidth": 0.9},
 "encoding": {"y": {"field": "h", "type": "quantitative", "scale": {"domain": [0, 1458], "nice": false, "zero": false}, "axis": null}, "x2": {"field": "ppm2"}, "y2": {"field": "h2"},
  "color": {"field": "s", "type": "nominal", "scale": {"domain": ["I", "II"], "range": ["#1f6fb2", "#d3202e"]}, "legend": null}}},
{"data": {"name": "labelsC"}, "mark": {"type": "text", "font": "Open Sans, DejaVu Sans", "fontSize": 21, "align": "center", "baseline": "middle"},
 "encoding": {"y": {"field": "h", "type": "quantitative", "scale": {"domain": [0, 1458], "nice": false, "zero": false}, "axis": null}, "text": {"field": "t"},
  "color": {"field": "s", "type": "nominal", "scale": {"domain": ["I", "II"], "range": ["#1e6aab", "#d0202e"]}, "legend": null}}},
{"data": {"name": "tags"}, "transform": [{"filter": "datum.p === 'c'"}], "mark": {"type": "text", "font": "Liberation Sans", "fontWeight": "bold", "fontSize": 30, "color": "#111", "align": "left", "baseline": "middle"},
 "encoding": {"y": {"field": "h", "type": "quantitative", "scale": {"domain": [0, 1458], "nice": false, "zero": false}, "axis": null}, "text": {"field": "t"}}}
]
}
